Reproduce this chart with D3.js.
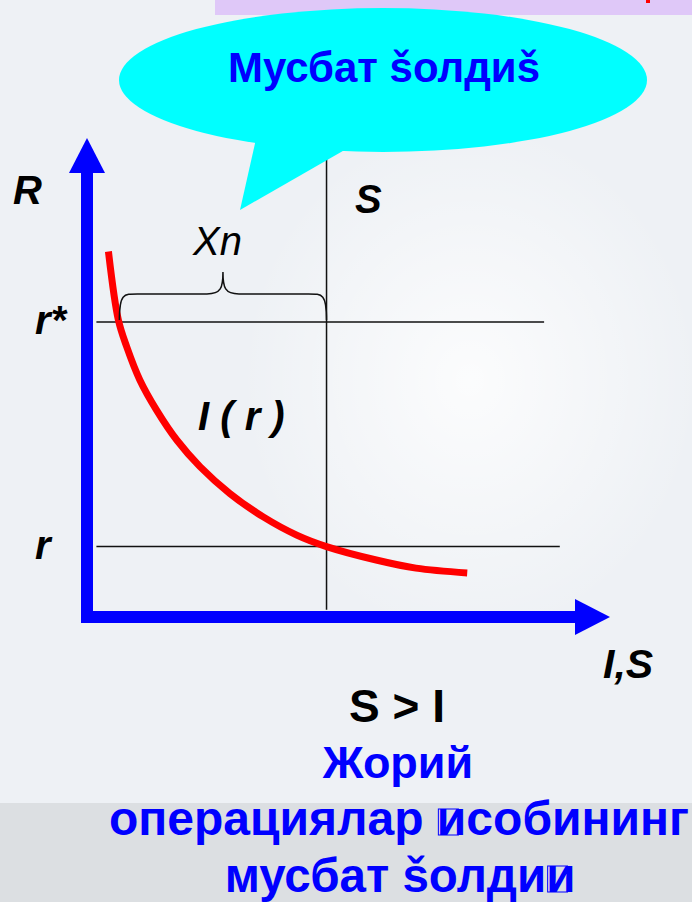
<!DOCTYPE html>
<html>
<head>
<meta charset="utf-8">
<script src="https://cdn.jsdelivr.net/npm/d3@7"></script>
<style>
  html, body { margin: 0; padding: 0; background: #eef1f5; }
  svg { display: block; }
  text { font-family: "Liberation Sans", Arial, sans-serif; }
</style>
</head>
<body>
<div id="chart"></div>
<script>
// investment curve I(r) (I on 0..100, r on 0..100)
const curveI = [4.1, 6.0, 7.6, 10.1, 13.3, 17.2, 21.6, 27.3, 33.7, 40.1, 45.8, 55.3, 62.9, 72.7];
const curveR = [76.3, 62.0, 56.4, 49.5, 43.2, 36.9, 31.4, 25.8, 20.9, 17.1, 14.7, 11.9, 10.2, 9.2];

// horizontal rate levels
const levelNames = ["r*", "r"];
const levelValues = [61.6, 14.7];
const levelEnds = [87.4, 90.4];

// savings line S
const savingsS = 45.8;

const bubbleText = "Мусбат šолдиš";
const bottomLines = ["Жорий", "операциялар исобининг", "мусбат šолдии"];

window.renderChart = function() {
  const W = 692, H = 902;
  const container = d3.select("#chart");
  container.html("");

  const svg = container.append("svg")
    .attr("width", W)
    .attr("height", H);

  // background
  svg.append("rect").attr("width", W).attr("height", H).attr("fill", "#eef1f5");
  const defs = svg.append("defs");
  const glow = defs.append("radialGradient").attr("id", "glow")
    .attr("cx", 0.5).attr("cy", 0.5).attr("r", 0.5);
  glow.append("stop").attr("offset", "0%").attr("stop-color", "#ffffff").attr("stop-opacity", 0.8);
  glow.append("stop").attr("offset", "100%").attr("stop-color", "#ffffff").attr("stop-opacity", 0);
  svg.append("ellipse").attr("cx", 470).attr("cy", 380).attr("rx", 230).attr("ry", 260)
    .attr("fill", "url(#glow)");
  svg.append("rect").attr("x", 0).attr("y", 803).attr("width", W).attr("height", H - 803)
    .attr("fill", "#dcdfe2");

  // top purple strip
  svg.append("rect").attr("x", 215).attr("y", 0).attr("width", W - 215).attr("height", 15)
    .attr("fill", "#dfc8f8");
  svg.append("rect").attr("x", 646).attr("y", 0).attr("width", 4).attr("height", 3)
    .attr("fill", "#ff0000");

  // scales
  const x = d3.scaleLinear().domain([0, 100]).range([87, 610]);
  const y = d3.scaleLinear().domain([0, 100]).range([617, 138]);

  // S line (goes under the bubble)
  svg.append("line")
    .attr("x1", x(savingsS)).attr("x2", x(savingsS))
    .attr("y1", y(103)).attr("y2", y(1.5))
    .attr("stroke", "#111").attr("stroke-width", 1.5);

  // speech bubble
  const bubble = svg.append("g").attr("fill", "#00ffff");
  bubble.append("ellipse").attr("cx", 383).attr("cy", 80).attr("rx", 264).attr("ry", 72);
  bubble.append("path").attr("d", "M258,130 L240,210 L362,140 Z");
  svg.append("text")
    .attr("x", 384).attr("y", 82)
    .attr("text-anchor", "middle")
    .attr("font-size", 42).attr("font-weight", "bold")
    .attr("fill", "#0000ff")
    .text(bubbleText);

  // rate levels
  svg.selectAll("line.level")
    .data(levelValues)
    .join("line")
    .attr("class", "level")
    .attr("x1", x(1.8)).attr("x2", (d, i) => x(levelEnds[i]))
    .attr("y1", d => y(d)).attr("y2", d => y(d))
    .attr("stroke", "#111").attr("stroke-width", 1.5);

  // I(r) curve
  const pts = curveI.map((v, i) => [v, curveR[i]]);
  svg.append("path")
    .datum(pts)
    .attr("fill", "none")
    .attr("stroke", "#ff0000")
    .attr("stroke-width", 7)
    .attr("d", d3.line().x(d => x(d[0])).y(d => y(d[1])).curve(d3.curveCatmullRom));

  // brace over Xn
  const bx0 = x(curveI[1]) + 1, bx1 = x(savingsS);
  const by = y(levelValues[0]) - 2;
  const bt = by - 26, bm = (bx0 + bx1) / 2, bp = bt - 22;
  svg.append("path")
    .attr("fill", "none").attr("stroke", "#111").attr("stroke-width", 1.5)
    .attr("d", `M${bx0},${by} C${bx0},${bt} ${bx0 + 4},${bt} ${bx0 + 18},${bt}
      L${bm - 16},${bt} C${bm - 2},${bt} ${bm},${bt - 6} ${bm},${bp}
      C${bm},${bt - 6} ${bm + 2},${bt} ${bm + 16},${bt}
      L${bx1 - 18},${bt} C${bx1 - 4},${bt} ${bx1},${bt} ${bx1},${by}`);

  // axes with arrow heads
  const axisColor = "#0000ff";
  svg.append("rect")
    .attr("x", x(0) - 6).attr("y", y(95)).attr("width", 12).attr("height", y(0) - y(95) + 6)
    .attr("fill", axisColor);
  svg.append("path")
    .attr("d", `M${x(0)},${y(100)} L${x(0) + 18},${y(100) + 35} L${x(0) - 18},${y(100) + 35} Z`)
    .attr("fill", axisColor);
  svg.append("rect")
    .attr("x", x(0) - 4).attr("y", y(0) - 6).attr("width", x(95) - x(0)).attr("height", 12)
    .attr("fill", axisColor);
  svg.append("path")
    .attr("d", `M${x(100)},${y(0)} L${x(100) - 35},${y(0) - 18} L${x(100) - 35},${y(0) + 18} Z`)
    .attr("fill", axisColor);

  // labels
  const lab = (t, px, py, opts = {}) => svg.append("text")
    .attr("x", px).attr("y", py)
    .attr("font-size", opts.size || 40)
    .attr("font-weight", opts.weight || "bold")
    .attr("font-style", opts.style || "italic")
    .attr("text-anchor", opts.anchor || "start")
    .attr("fill", opts.fill || "#000")
    .text(t);

  lab("R", 13, 204);
  svg.selectAll("text.lvl")
    .data(levelValues)
    .join("text")
    .attr("class", "lvl")
    .attr("x", 35).attr("y", d => y(d) + 12)
    .attr("font-size", 40).attr("font-weight", "bold").attr("font-style", "italic")
    .text((d, i) => levelNames[i]);
  lab("S", 355, 213);
  lab("Xn", 193, 255, { weight: "normal" });
  lab("I ( r )", 198, 430);
  lab("I,S", 603, 678, { size: 41 });
  lab("S > I", 397, 722, { size: 46, style: "normal", anchor: "middle" });

  // bottom caption
  const capY = [778, 835, 892];
  const capSize = [45, 48, 47.5];
  const capX = [398, 399, 400];
  bottomLines.forEach((t, i) => {
    const el = lab(t, capX[i], capY[i], { size: capSize[i], style: "normal", anchor: "middle", fill: "#0000ff" });
    // missing-glyph boxes seen in the original rendering
    if (i > 0) {
      const idx = i === 1 ? t.indexOf(" ") + 1 : t.length - 1;
      const ext = el.node().getExtentOfChar(idx);
      svg.append("rect")
        .attr("x", ext.x + 1.5).attr("y", capY[i] - 26)
        .attr("width", ext.width * 0.68).attr("height", 26)
        .attr("fill", "none").attr("stroke", "#0000ff").attr("stroke-width", 1);
    }
  });
};

renderChart();
</script>
</body>
</html>
